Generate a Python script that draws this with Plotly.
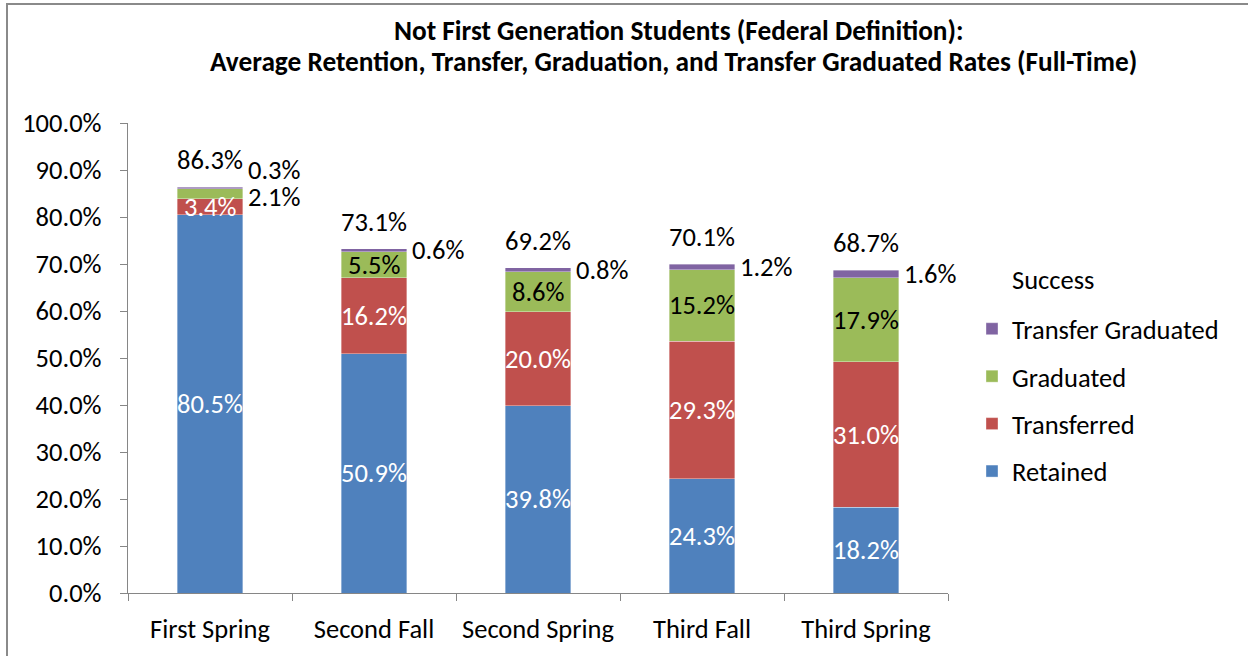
import plotly.graph_objects as go

# Cohort checkpoints and the rate of each outcome (percent)
terms = ["First Spring", "Second Fall", "Second Spring", "Third Fall", "Third Spring"]
retained = [80.5, 50.9, 39.8, 24.3, 18.2]
transferred = [3.4, 16.2, 20.0, 29.3, 31.0]
graduated = [2.1, 5.5, 8.6, 15.2, 17.9]
transfer_graduated = [0.3, 0.6, 0.8, 1.2, 1.6]
success_total = [86.3, 73.1, 69.2, 70.1, 68.7]
y_ticks = [0, 10, 20, 30, 40, 50, 60, 70, 80, 90, 100]
title_lines = [
    "Not First Generation Students (Federal Definition):",
    "Average Retention, Transfer, Graduation, and Transfer Graduated Rates (Full-Time)",
]

FONT = "Carlito, Calibri, Lato, sans-serif"
LBL = 26.5
AXIS_GRAY = "#868686"

series = [
    ("Retained", retained, "#4F81BD", "white"),
    ("Transferred", transferred, "#C0504D", "white"),
    ("Graduated", graduated, "#9BBB59", "black"),
    ("Transfer Graduated", transfer_graduated, "#8064A2", "black"),
]

fig = go.Figure()
for rank, (name, vals, color, _) in enumerate(series):
    fig.add_trace(go.Bar(
        x=terms, y=vals, name=name, legendgroup=name,
        legendrank=len(series) - rank,
        marker=dict(color=color, line=dict(color="rgba(255,255,255,0.6)", width=0.6)),
        width=0.4, hoverinfo="skip",
    ))

ann = []
BAR_HALF_PX = 33
for i, t in enumerate(terms):
    base = 0.0
    outside_raised = False
    for k, (name, vals, color, tcolor) in enumerate(series):
        v = vals[i]
        mid = base + v / 2
        text = f"{v:.1f}%"
        if name == "Transfer Graduated":
            ann.append(dict(x=t, y=mid, xref="x", yref="y", text=text, showarrow=False,
                            xanchor="left", yanchor="middle", xshift=BAR_HALF_PX + 3,
                            yshift=18 if outside_raised else 0,
                            font=dict(family=FONT, size=LBL, color="black")))
        elif v < 3:
            # segment too thin: write the label beside the bar
            ann.append(dict(x=t, y=mid, xref="x", yref="y", text=text, showarrow=False,
                            xanchor="left", yanchor="middle", xshift=BAR_HALF_PX + 3,
                            yshift=-3,
                            font=dict(family=FONT, size=LBL, color="black")))
            outside_raised = True
        else:
            ann.append(dict(x=t, y=mid, xref="x", yref="y", text=text, showarrow=False,
                            xanchor="center", yanchor="middle",
                            font=dict(family=FONT, size=LBL, color=tcolor)))
        base += v
    # overall success rate above the stack
    ann.append(dict(x=t, y=base, xref="x", yref="y", text=f"{success_total[i]:.1f}%",
                    showarrow=False, xanchor="center", yanchor="middle", yshift=27,
                    font=dict(family=FONT, size=LBL, color="black")))

# legend heading
ann.append(dict(x=(1010 - 128) / 820, y=(593 - 280) / 470, xref="paper", yref="paper",
                text="Success", showarrow=False, xanchor="left", yanchor="middle",
                font=dict(family=FONT, size=LBL, color="black")))

# two-line chart heading
for line, xpx, ypx in zip(title_lines, [679, 673], [30, 62]):
    ann.append(dict(x=(xpx - 128) / 820, y=(593 - ypx) / 470, xref="paper", yref="paper",
                    text=f"<b>{line}</b>", showarrow=False, xanchor="center", yanchor="middle",
                    font=dict(family=FONT, size=27.3, color="black")))

fig.update_layout(
    width=1248, height=656,
    margin=dict(l=128, r=300, t=123, b=63, autoexpand=False),
    paper_bgcolor="white", plot_bgcolor="white",
    barmode="stack", bargap=0.6,
    font=dict(family=FONT, size=LBL, color="black"),
    xaxis=dict(
        range=[-0.5, len(terms) - 0.5], autorange=False,
        showgrid=False, showline=True, linecolor=AXIS_GRAY, linewidth=1.3,
        ticks="outside", tickson="boundaries", ticklen=7, tickcolor=AXIS_GRAY,
        ticklabelstandoff=12,
        tickfont=dict(family=FONT, size=LBL, color="black"),
    ),
    yaxis=dict(
        range=[0, 100], tickvals=y_ticks, ticktext=[f"{v:.1f}%" for v in y_ticks],
        showgrid=False, zeroline=False, showline=True, linecolor=AXIS_GRAY, linewidth=1.3,
        ticks="outside", ticklen=7, tickcolor=AXIS_GRAY,
        ticklabelstandoff=13,
        tickfont=dict(family=FONT, size=LBL, color="black"),
    ),
    legend=dict(
        x=(972 - 128) / 820, xanchor="left", y=(593 - 305) / 470, yanchor="top",
        traceorder="grouped", tracegroupgap=10,
        font=dict(family=FONT, size=LBL, color="black"),
        bgcolor="rgba(0,0,0,0)",
    ),
    annotations=ann,
    shapes=[dict(type="rect", xref="paper", yref="paper",
                 x0=(7 - 128) / 820, x1=(1300 - 128) / 820,
                 y0=(593 - 700) / 470, y1=(593 - 4) / 470,
                 line=dict(color="#8a8a8a", width=2), fillcolor="rgba(0,0,0,0)")],
)

fig.write_html("out.html")
